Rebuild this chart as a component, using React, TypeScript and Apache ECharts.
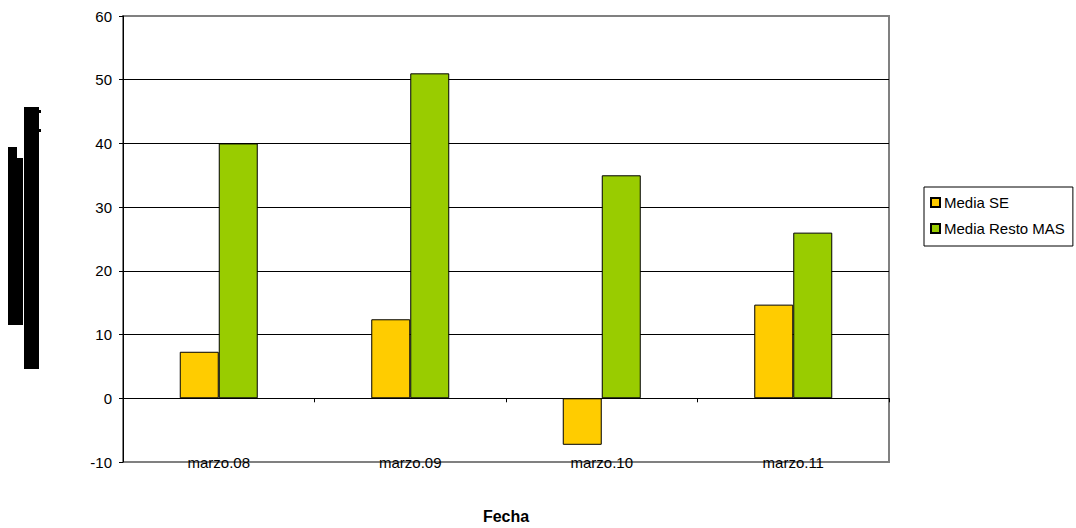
import React, { useEffect, useRef } from "react";
import * as echarts from "echarts";

const categories = ["marzo.08", "marzo.09", "marzo.10", "marzo.11"];
const mediaSE = [7.3, 12.4, -7.3, 14.7];
const mediaResto = [40, 51, 35, 26];
const seriesNames = ["Media SE", "Media Resto MAS"];
const xAxisTitle = "Fecha";

export default function App() {
  const ref = useRef<HTMLDivElement>(null);
  useEffect(() => {
    document.body.style.margin = "0";
    const chart = echarts.init(ref.current!, null, { renderer: "svg" });
    const font = "Liberation Sans, Arial, sans-serif";
    chart.setOption({
      animation: false,
      backgroundColor: "#fff",
      textStyle: { fontFamily: font },
      grid: {
        left: 123,
        top: 16,
        right: 187,
        bottom: 66,
        outerBoundsMode: "none",
        containLabel: false,
        show: true,
        borderColor: "#808080",
        borderWidth: 2,
        backgroundColor: "transparent",
      },
      legend: {
        orient: "vertical",
        left: 924,
        top: 187,
        padding: [8, 8, 10, 6],
        itemGap: 11,
        itemWidth: 9,
        itemHeight: 9,
        icon: "rect",
        borderColor: "#000",
        borderWidth: 1,
        textStyle: { fontSize: 15, color: "#000", fontFamily: font, padding: [0, 0, 0, -1] },
        data: seriesNames,
      },
      xAxis: [
        {
          type: "category",
          data: categories,
          position: "bottom",
          axisLine: { show: false, onZero: false },
          axisTick: { show: false },
          axisLabel: { color: "#000", fontSize: 15, margin: -7, fontFamily: font },
          name: xAxisTitle,
          nameLocation: "middle",
          nameGap: 46,
          nameTextStyle: { fontSize: 16, fontWeight: "bold", color: "#000", fontFamily: font },
          splitLine: { show: false },
        },
        {
          type: "category",
          data: categories,
          position: "bottom",
          axisLine: { show: true, onZero: true, lineStyle: { color: "#000", width: 1 } },
          axisTick: { show: true, length: 4, inside: false, lineStyle: { color: "#000" } },
          axisLabel: { show: false },
          splitLine: { show: false },
        },
      ],
      yAxis: {
        type: "value",
        min: -10,
        max: 60,
        interval: 10,
        axisLine: { show: true, lineStyle: { color: "#000", width: 1 } },
        axisTick: { show: true, length: 4, lineStyle: { color: "#000" } },
        axisLabel: { color: "#000", fontSize: 15, margin: 11, fontFamily: font },
        splitLine: {
          show: true,
          lineStyle: {
            color: ["#808080", "#000", "#000", "#000", "#000", "#000", "#000", "#808080"],
            width: 1,
          },
        },
      },
      series: [
        {
          name: seriesNames[0],
          type: "bar",
          xAxisIndex: 0,
          data: mediaSE,
          barWidth: 39,
          barGap: "0%",
          itemStyle: { color: "#FFCC00", borderColor: "#000", borderWidth: 1 },
        },
        {
          name: seriesNames[1],
          type: "bar",
          xAxisIndex: 0,
          data: mediaResto,
          barWidth: 39,
          barGap: "0%",
          itemStyle: { color: "#99CC00", borderColor: "#000", borderWidth: 1 },
        },
      ],
      graphic: [
        { type: "rect", shape: { x: 8, y: 147, width: 9, height: 178 }, style: { fill: "#000" } },
        { type: "rect", shape: { x: 17, y: 158, width: 6, height: 167 }, style: { fill: "#000" } },
        { type: "rect", shape: { x: 24, y: 107, width: 15, height: 262 }, style: { fill: "#000" } },
        { type: "rect", shape: { x: 39, y: 110, width: 2, height: 3 }, style: { fill: "#000" } },
        { type: "rect", shape: { x: 39, y: 129, width: 2, height: 3 }, style: { fill: "#000" } },
      ],
    });
    return () => chart.dispose();
  }, []);
  return <div ref={ref} style={{ width: 1076, height: 528, position: "absolute", left: 0, top: 0 }} />;
}
